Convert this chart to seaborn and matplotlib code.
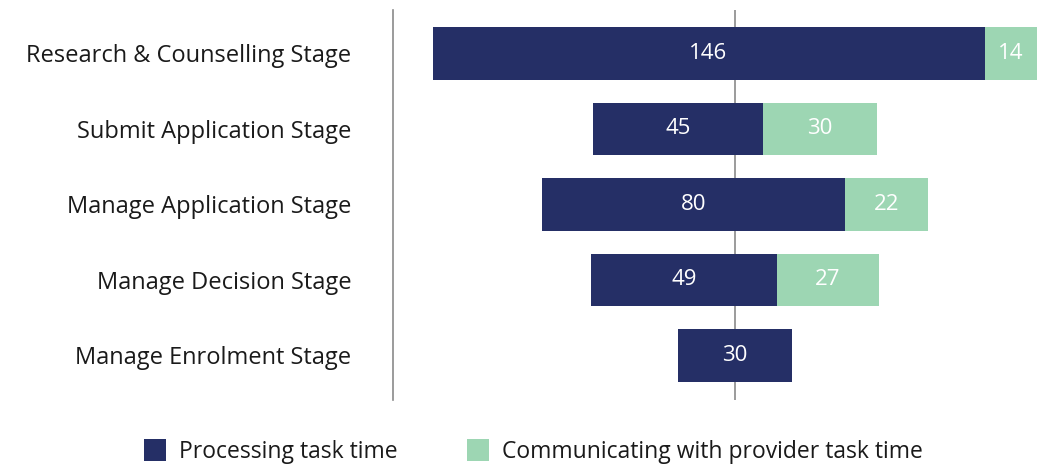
import matplotlib
matplotlib.use("Agg")
import matplotlib.pyplot as plt
from matplotlib.patches import Patch
import seaborn as sns
import pandas as pd

# Stage-level task times
stages = [
    "Research & Counselling Stage",
    "Submit Application Stage",
    "Manage Application Stage",
    "Manage Decision Stage",
    "Manage Enrolment Stage",
]
processing = [146, 45, 80, 49, 30]
communicating = [14, 30, 22, 27, 0]

series_names = ["Processing task time", "Communicating with provider task time"]
navy = "#252f66"
mint = "#9dd6b3"

sns.set_theme(style="white")
plt.rcParams["font.family"] = ["Open Sans", "DejaVu Sans"]

df = pd.DataFrame({"stage": stages, "processing": processing, "communicating": communicating})
totals = df["processing"] + df["communicating"]

fig = plt.figure(figsize=(10.42, 4.70), dpi=100)
ax = fig.add_axes([0.377, 0.149, 0.623, 0.830])

# centre line behind the bars
ax.axvline(0, color="#8a8a8a", lw=1.2, zorder=0)

sns.barplot(data=df, y="stage", x="processing", orient="h", color=navy,
            width=0.70, ax=ax, saturation=1, linewidth=0, zorder=2)
sns.barplot(data=df, y="stage", x="communicating", orient="h", color=mint,
            width=0.70, ax=ax, saturation=1, linewidth=0, zorder=2)

proc_bars = ax.containers[0]
comm_bars = ax.containers[1]

# centre each stacked bar on zero
for i, (pb, cb) in enumerate(zip(proc_bars, comm_bars)):
    left = -totals[i] / 2
    pb.set_x(left)
    cb.set_x(left + df["processing"][i])

ax.bar_label(proc_bars, labels=[str(v) for v in processing], label_type="center",
             color="white", fontsize=16)
ax.bar_label(comm_bars, labels=[str(v) if v else "" for v in communicating],
             label_type="center", color="white", fontsize=16)

ax.set_xlim(-90.5, 81.2)
ax.set_ylim(4.59, -0.577)
ax.set_xlabel("")
ax.set_ylabel("")
ax.set_xticks([])
for side in ["top", "right", "bottom"]:
    ax.spines[side].set_visible(False)
ax.spines["left"].set_color("#8a8a8a")
ax.spines["left"].set_linewidth(1.2)
ax.tick_params(axis="y", length=0, pad=30, labelsize=17, labelcolor="#1a1a1a")

handles = [Patch(facecolor=navy, edgecolor="none"), Patch(facecolor=mint, edgecolor="none")]
fig.legend(handles, series_names, loc="center", bbox_to_anchor=(0.512, 0.040), ncol=2,
           frameon=False, fontsize=16.5, handlelength=0.95, handleheight=1.1,
           handletextpad=0.6, columnspacing=3.0, labelcolor="#1a1a1a")

fig.savefig("out.png", dpi=100)
